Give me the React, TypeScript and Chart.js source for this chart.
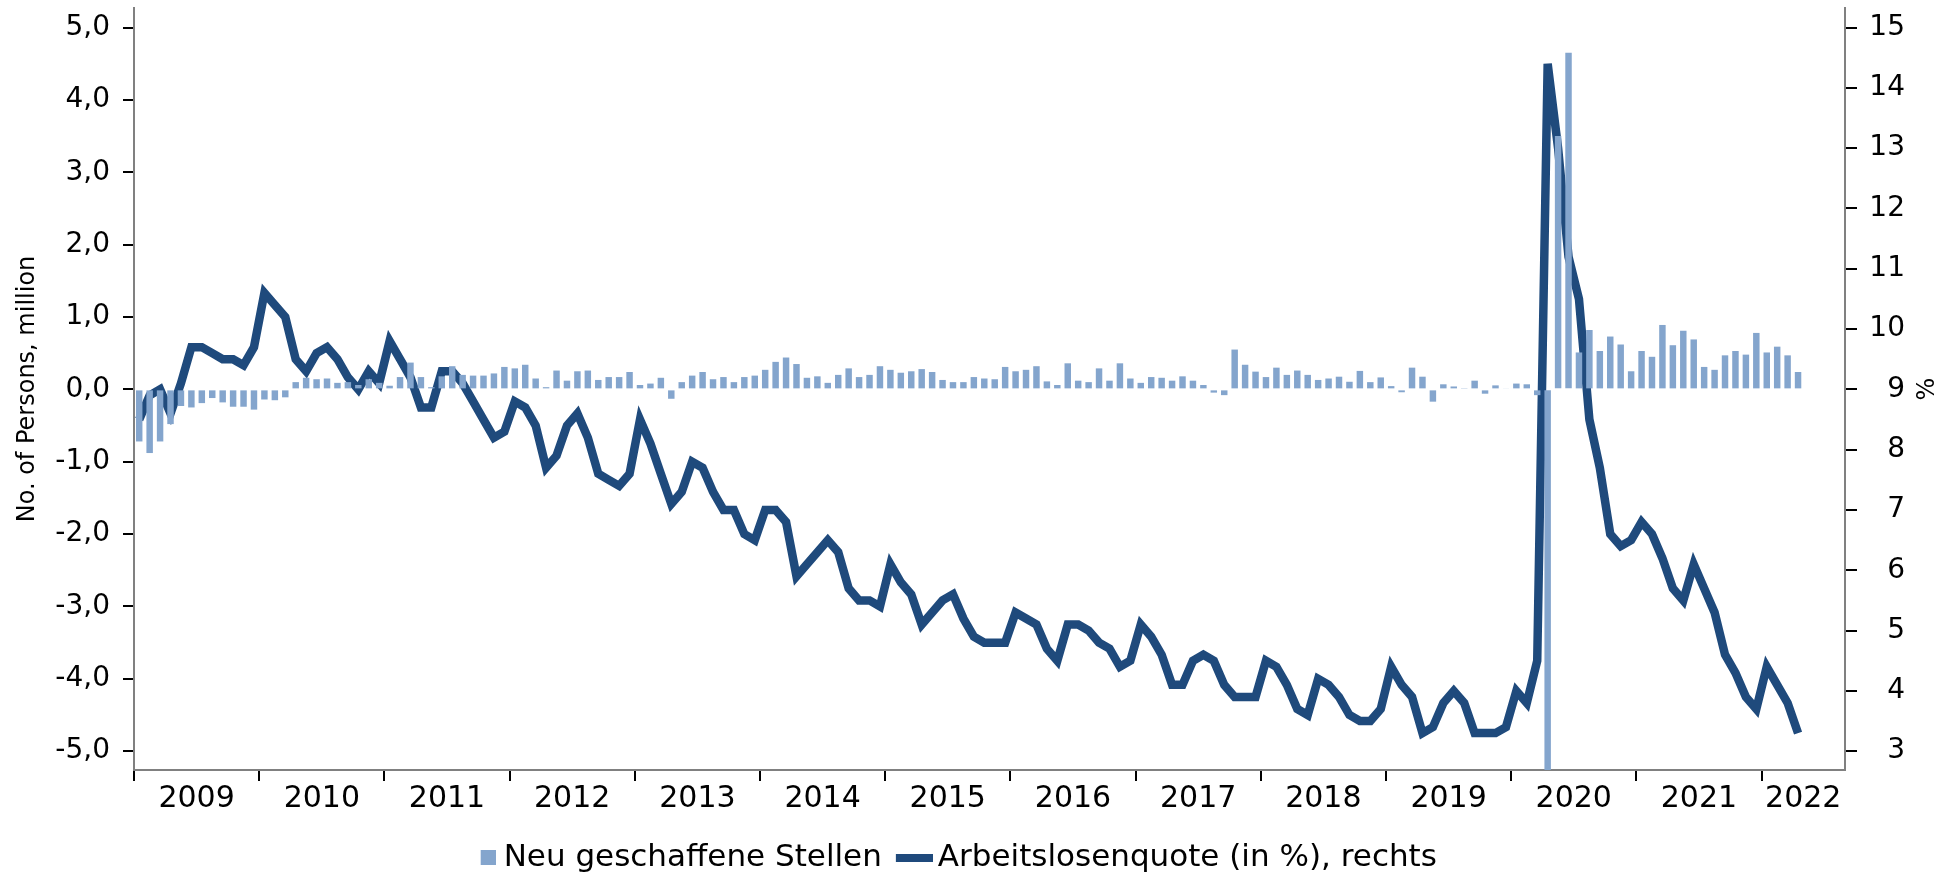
import React, { useEffect, useRef } from 'react';
import { Chart, registerables } from 'chart.js';

Chart.register(...registerables);

// ---------- data ----------
const years = ['2009', '2010', '2011', '2012', '2013', '2014', '2015', '2016', '2017', '2018', '2019', '2020', '2021', '2022'];
const monthsOnAxis = 164; // axis runs Jan 2009 .. Aug 2022

// Neu geschaffene Stellen (million), monthly from Jan 2009
const newJobs = [
  -0.72, -0.88, -0.72, -0.48, -0.23, -0.25, -0.19, -0.12, -0.18, -0.24, -0.24, -0.28,
  -0.14, -0.15, -0.11, 0.10, 0.16, 0.14, 0.15, 0.09, 0.10, 0.06, 0.14, 0.09,
  0.05, 0.17, 0.37, 0.17, 0.03, 0.18, 0.32, 0.20, 0.19, 0.19, 0.22, 0.31,
  0.29, 0.34, 0.15, 0.03, 0.26, 0.12, 0.25, 0.26, 0.13, 0.17, 0.17, 0.24,
  0.06, 0.08, 0.16, -0.13, 0.10, 0.19, 0.24, 0.14, 0.17, 0.10, 0.17, 0.19,
  0.27, 0.38, 0.44, 0.35, 0.16, 0.18, 0.09, 0.20, 0.29, 0.17, 0.20, 0.32,
  0.27, 0.23, 0.25, 0.28, 0.24, 0.13, 0.10, 0.10, 0.17, 0.15, 0.14, 0.31,
  0.25, 0.27, 0.32, 0.11, 0.06, 0.36, 0.12, 0.10, 0.29, 0.12, 0.36, 0.15,
  0.09, 0.17, 0.16, 0.12, 0.18, 0.12, 0.06, -0.045, -0.08, 0.55, 0.34, 0.245,
  0.17, 0.30, 0.20, 0.26, 0.20, 0.13, 0.15, 0.175, 0.105, 0.255, 0.10, 0.165,
  0.045, -0.04, 0.30, 0.175, -0.17, 0.07, 0.04, 0.01, 0.12, -0.06, 0.055, 0.015,
  0.08, 0.07, -0.08, -20.5, 3.5, 4.65, 0.51, 0.82, 0.53, 0.73, 0.62, 0.25,
  0.53, 0.45, 0.89, 0.61, 0.81, 0.69, 0.31, 0.27, 0.47, 0.53, 0.48, 0.78,
  0.51, 0.59, 0.47, 0.24,
];

// Arbeitslosenquote (in %), monthly from Jan 2009
const unemploymentRate = [
  8.5, 8.9, 9.0, 8.6, 9.1, 9.7, 9.7, 9.6, 9.5, 9.5, 9.4, 9.7,
  10.6, 10.4, 10.2, 9.5, 9.3, 9.6, 9.7, 9.5, 9.2, 9.0, 9.3, 9.1,
  9.8, 9.5, 9.2, 8.7, 8.7, 9.3, 9.3, 9.1, 8.8, 8.5, 8.2, 8.3,
  8.8, 8.7, 8.4, 7.7, 7.9, 8.4, 8.6, 8.2, 7.6, 7.5, 7.4, 7.6,
  8.5, 8.1, 7.6, 7.1, 7.3, 7.8, 7.7, 7.3, 7.0, 7.0, 6.6, 6.5,
  7.0, 7.0, 6.8, 5.9, 6.1, 6.3, 6.5, 6.3, 5.7, 5.5, 5.5, 5.4,
  6.1, 5.8, 5.6, 5.1, 5.3, 5.5, 5.6, 5.2, 4.9, 4.8, 4.8, 4.8,
  5.3, 5.2, 5.1, 4.7, 4.5, 5.1, 5.1, 5.0, 4.8, 4.7, 4.4, 4.5,
  5.1, 4.9, 4.6, 4.1, 4.1, 4.5, 4.6, 4.5, 4.1, 3.9, 3.9, 3.9,
  4.5, 4.4, 4.1, 3.7, 3.6, 4.2, 4.1, 3.9, 3.6, 3.5, 3.5, 3.7,
  4.4, 4.1, 3.9, 3.3, 3.4, 3.8, 4.0, 3.8, 3.3, 3.3, 3.3, 3.4,
  4.0, 3.8, 4.5, 14.4, 13.0, 11.2, 10.5, 8.5, 7.7, 6.6, 6.4, 6.5,
  6.8, 6.6, 6.2, 5.7, 5.5, 6.1, 5.7, 5.3, 4.6, 4.3, 3.9, 3.7,
  4.4, 4.1, 3.8, 3.3,
];

const leftTicks = [-5, -4, -3, -2, -1, 0, 1, 2, 3, 4, 5];
const rightTicks = [3, 4, 5, 6, 7, 8, 9, 10, 11, 12, 13, 14, 15];

const BAR_LABEL = 'Neu geschaffene Stellen';
const LINE_LABEL = 'Arbeitslosenquote (in %), rechts';
const LEFT_TITLE = 'No. of Persons, million';
const RIGHT_TITLE = '%';

// ---------- styling / layout ----------
const FONT = '"DejaVu Sans", "Liberation Sans", sans-serif';
const BAR_COLOR = '#84A5CD';
const LINE_COLOR = '#1F4A7C';
const AXIS_COLOR = '#808080';
const LEFT_MIN = -5.26;
const LEFT_MAX = 5.27;
const W = 1952;
const H = 883;

const months: string[] = [];
for (const y of years) {
  for (let m = 1; m <= 12; m++) {
    if (months.length < monthsOnAxis) months.push(`${y}-${String(m).padStart(2, '0')}`);
  }
}

function yearLabelAt(i: number): string {
  const yi = Math.floor(i / 12);
  const start = yi * 12;
  const len = Math.min(12, monthsOnAxis - start);
  return i === start + Math.floor(len / 2) ? years[yi] : '';
}

function makeKey(w: number, h: number, color: string, vx: number, vw: number, vh: number) {
  const c = document.createElement('canvas');
  c.width = w;
  c.height = h;
  const g = c.getContext('2d')!;
  g.fillStyle = color;
  g.fillRect(vx, (h - vh) / 2, vw, vh);
  return c;
}

const rightTitlePlugin = {
  id: 'rightTitle',
  afterDraw(chart: any) {
    const { ctx, chartArea } = chart;
    const s = chart.scales.y1;
    ctx.save();
    ctx.font = `24px ${FONT}`;
    ctx.fillStyle = '#000';
    ctx.textAlign = 'center';
    ctx.textBaseline = 'middle';
    ctx.translate(s.right + 23, (chartArea.top + chartArea.bottom) / 2);
    ctx.rotate(-Math.PI / 2);
    ctx.fillText(RIGHT_TITLE, 0, 0);
    ctx.restore();
  },
};

export default function App() {
  const ref = useRef<HTMLCanvasElement>(null);

  useEffect(() => {
    if (!ref.current) return;
    const keyBar = makeKey(35, 15, BAR_COLOR, 20, 15, 15);
    const keyLine = makeKey(41, 8, LINE_COLOR, 4, 37, 8);
    const barData = months.map((_, i) => (i < newJobs.length ? newJobs[i] : null));
    const lineData = months.map((_, i) => (i < unemploymentRate.length ? unemploymentRate[i] : null));

    const chart = new Chart(ref.current, {
      type: 'bar',
      data: {
        labels: months,
        datasets: [
          {
            type: 'bar',
            label: BAR_LABEL,
            data: barData,
            yAxisID: 'y',
            backgroundColor: BAR_COLOR,
            borderWidth: 0,
            barPercentage: 0.62,
            categoryPercentage: 1,
          },
          {
            type: 'line',
            label: LINE_LABEL,
            data: lineData,
            yAxisID: 'y1',
            borderColor: LINE_COLOR,
            backgroundColor: LINE_COLOR,
            borderWidth: 8.5,
            pointRadius: 0,
            tension: 0,
            fill: false,
          },
        ] as any,
      },
      options: {
        animation: false,
        responsive: true,
        maintainAspectRatio: false,
        devicePixelRatio: 1,
        layout: { padding: { top: 8, left: 0, right: 47, bottom: 0 } },
        plugins: {
          tooltip: { enabled: false },
          legend: {
            position: 'bottom',
            labels: {
              usePointStyle: true,
              pointStyleWidth: 20,
              padding: 20.5,
              color: '#000',
              font: { family: FONT, size: 31 },
              generateLabels: (c: any) => {
                const items = (Chart.defaults.plugins.legend.labels as any).generateLabels(c);
                items[0].pointStyle = keyBar;
                items[1].pointStyle = keyLine;
                return items;
              },
            },
          },
        },
        scales: {
          x: {
            type: 'category',
            offset: true,
            grid: {
              offset: true,
              drawOnChartArea: false,
              drawTicks: true,
              tickLength: 11,
              lineWidth: 2,
              tickWidth: 2,
              color: 'rgba(0,0,0,0)',
              tickColor: (ctx: any) => (ctx.index % 12 === 0 ? '#000' : 'rgba(0,0,0,0)'),
            },
            border: { display: true, color: AXIS_COLOR, width: 2 },
            ticks: {
              autoSkip: false,
              maxRotation: 0,
              minRotation: 0,
              padding: 0,
              labelOffset: -5.2,
              color: '#000',
              font: { family: FONT, size: 30 },
              callback: (_v: any, i: number) => yearLabelAt(i),
            },
            afterFit: (s: any) => {
              s.height = 51.5;
              s.paddingLeft = 0;
              s.paddingRight = 0;
            },
          },
          y: {
            type: 'linear',
            position: 'left',
            min: LEFT_MIN,
            max: LEFT_MAX,
            afterBuildTicks: (s: any) => {
              s.ticks = leftTicks.map((v) => ({ value: v }));
            },
            grid: {
              drawOnChartArea: false,
              drawTicks: true,
              tickLength: 11,
              lineWidth: 2,
              tickWidth: 2,
              tickColor: '#000',
            },
            border: { display: true, color: AXIS_COLOR, width: 2 },
            ticks: {
              padding: 13,
              color: '#000',
              font: { family: FONT, size: 28 },
              callback: (v: any) => Number(v).toFixed(1).replace('.', ','),
            },
            title: {
              display: true,
              text: LEFT_TITLE,
              color: '#000',
              font: { family: FONT, size: 24 },
              padding: { top: 13, bottom: 0 },
            },
            afterFit: (s: any) => {
              s.width = 134;
              s.paddingTop = 0;
              s.paddingBottom = 0;
            },
          },
          y1: {
            type: 'linear',
            position: 'right',
            min: 9 + 1.2 * LEFT_MIN,
            max: 9 + 1.2 * LEFT_MAX,
            afterBuildTicks: (s: any) => {
              s.ticks = rightTicks.map((v) => ({ value: v }));
            },
            grid: {
              drawOnChartArea: false,
              drawTicks: true,
              tickLength: 12,
              lineWidth: 2,
              tickWidth: 2,
              tickColor: '#000',
            },
            border: { display: true, color: AXIS_COLOR, width: 2 },
            ticks: {
              crossAlign: 'far',
              padding: 8,
              color: '#000',
              font: { family: FONT, size: 28 },
              callback: (v: any) => String(v),
            },
            afterFit: (s: any) => {
              s.width = 60;
              s.paddingTop = 0;
              s.paddingBottom = 0;
            },
          },
        },
      } as any,
      plugins: [rightTitlePlugin],
    });
    return () => chart.destroy();
  }, []);

  return (
    <div style={{ position: 'fixed', left: 0, top: 0, width: W, height: H, background: '#fff' }}>
      <canvas ref={ref} />
    </div>
  );
}
